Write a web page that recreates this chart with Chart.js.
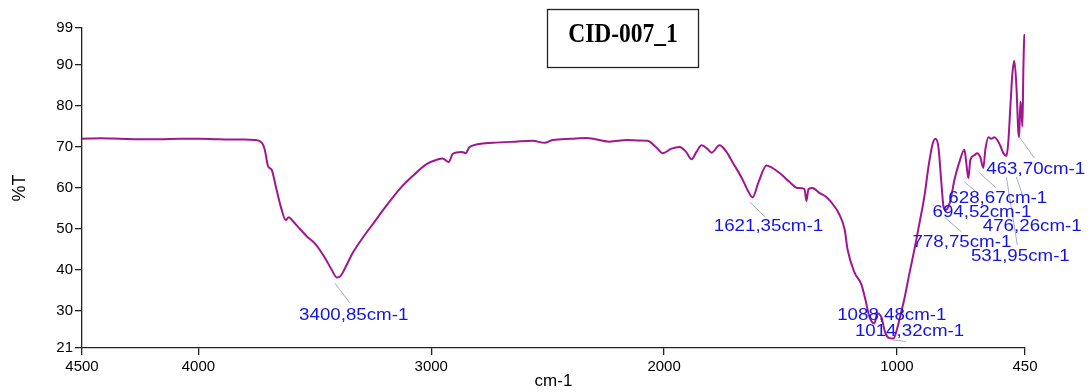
<!DOCTYPE html>
<html>
<head>
<meta charset="utf-8">
<script src="https://cdn.jsdelivr.net/npm/chart.js@4.4.1/dist/chart.umd.min.js"></script>
<style>
  html, body { margin: 0; padding: 0; background: #fff; }
</style>
</head>
<body>
<canvas id="irChart" width="1090" height="392"></canvas>
<script>
// ============================
// SPECTRUM DATA (cm-1 / %T)
// ============================
const wavenumber = [
  4500, 4420, 4337, 4250, 4165, 4080, 3994, 3930, 3865, 3800, 3758, 3727, 3715, 3702, 3693, 3685,
  3667, 3646, 3625, 3612, 3594, 3564, 3534, 3500, 3457, 3427, 3406, 3389, 3363, 3337, 3285, 3251,
  3195, 3135, 3080, 3020, 2970, 2951, 2925, 2908, 2869, 2852, 2835, 2736, 2640, 2564, 2513, 2479, 2400,
  2333, 2234, 2161, 2105, 2071, 2032, 2006, 1968, 1934, 1908, 1882, 1861, 1839, 1813, 1796,
  1762, 1732, 1706, 1667, 1637, 1620, 1594, 1560, 1539, 1517, 1490, 1462, 1427, 1397, 1389, 1380,
  1363, 1333, 1303, 1268, 1247, 1225, 1212, 1183, 1153, 1135, 1118, 1097, 1084, 1067, 1050, 1032,
  1015, 998, 985, 968, 947, 925, 903, 882, 865, 848, 835, 822, 809, 800, 792, 783,
  770, 753, 732, 710, 702, 693, 685, 667, 655, 642, 629, 620, 607, 595, 582, 569,
  556, 543, 530, 522, 513, 504, 496, 487, 479, 475, 470, 466, 461, 457, 453, 450
];
const transmittance = [
  72.0, 72.1, 72.0, 71.9, 71.9, 72.0, 72.0, 71.9, 71.8, 71.8, 71.7, 71.0, 69.3, 65.5, 64.8, 64.4,
  60.2, 55.4, 52.2, 52.9, 51.9, 50.0, 48.2, 46.5, 43.0, 40.0, 38.2, 38.6, 41.3, 44.2, 48.6, 51.2,
  55.5, 59.8, 62.9, 65.8, 67.0, 67.2, 66.3, 68.3, 68.8, 68.5, 70.0, 71.0, 71.3, 71.5, 71.0, 71.7, 72.0,
  72.2, 71.3, 71.7, 71.6, 71.5, 69.8, 68.5, 69.6, 70.0, 69.0, 67.0, 68.8, 70.4, 69.5, 68.6,
  70.4, 68.8, 66.3, 62.5, 59.0, 57.7, 61.5, 65.5, 65.0, 64.2, 63.0, 61.5, 60.0, 59.8, 56.8, 59.7,
  60.0, 58.8, 57.8, 55.5, 53.5, 50.0, 45.0, 39.5, 36.5, 32.7, 28.6, 27.0, 29.5, 28.5, 24.7, 23.4,
  23.3, 26.0, 29.0, 33.0, 39.0, 45.0, 51.5, 58.0, 65.0, 70.5, 72.0, 70.0, 61.2, 55.4, 54.6, 55.0,
  57.0, 62.0, 66.3, 69.3, 66.0, 62.4, 66.8, 68.0, 68.5, 67.5, 64.9, 69.5, 72.4, 72.0, 72.4, 71.7,
  70.3, 68.5, 67.8, 71.0, 79.7, 88.0, 91.0, 85.0, 74.0, 72.4, 81.0, 79.5, 75.0, 89.0, 96.8, 97.5
];

const xTicks = [4500, 4000, 3000, 2000, 1000, 450];
const yTicks = [99, 90, 80, 70, 60, 50, 40, 30, 21];

// marked bands
const peaks = [3400.85, 1621.35, 1088.48, 1014.32, 778.75, 694.52, 628.67, 531.95, 476.26, 463.70];
// label centre, in axis units
const labelAt = [
  [3333, 29.0], [1552, 50.5], [1022, 29.0], [946, 25.1], [721, 46.8],
  [635, 53.9], [567, 57.3], [470, 43.2], [419, 50.5], [404, 64.6]
];
// leader line from band to label, in axis units
const leaderFrom = [
  [3414, 36.8], [1633, 56.6], null, [1025, 23.0], [796, 52.9],
  [710, 61.5], [646, 63.7], [530, 62.7], [487, 62.7], [474, 72.4]
];
const leaderTo = [
  [3350, 32.0], [1565, 52.9], null, [962, 22.6], [723, 49.3],
  [659, 59.0], [573, 60.0], [483, 46.1], [461, 58.3], [410, 67.3]
];

const sampleName = "CID-007_1";

// ============================
// LABELS + SAMPLE BOX
// ============================
const peakLabels = {
  id: "peakLabels",
  afterDatasetsDraw(chart) {
    const { ctx, scales: { x, y } } = chart;
    ctx.save();

    ctx.strokeStyle = "#a6a9cf";
    ctx.lineWidth = 1;
    peaks.forEach((p, i) => {
      const a = leaderFrom[i], b = leaderTo[i];
      if (!a) return;
      ctx.beginPath();
      ctx.moveTo(x.getPixelForValue(a[0]), y.getPixelForValue(a[1]));
      ctx.lineTo(x.getPixelForValue(b[0]), y.getPixelForValue(b[1]));
      ctx.stroke();
    });

    ctx.fillStyle = "#1414e0";
    ctx.font = "16px 'Liberation Sans', Arial, sans-serif";
    ctx.textAlign = "center";
    ctx.textBaseline = "middle";
    peaks.forEach((p, i) => {
      const text = p.toFixed(2).replace(".", ",") + "cm-1";
      ctx.save();
      ctx.translate(x.getPixelForValue(labelAt[i][0]), y.getPixelForValue(labelAt[i][1]));
      ctx.scale(1.17, 1);
      ctx.fillText(text, 0, 0);
      ctx.restore();
    });

    // sample name box
    ctx.strokeStyle = "#222";
    ctx.lineWidth = 1.3;
    ctx.strokeRect(547.5, 9.5, 151, 58);
    ctx.fillStyle = "#000";
    ctx.font = "bold 27px 'Liberation Serif', 'Times New Roman', serif";
    ctx.save();
    ctx.translate(623, 35);
    ctx.scale(0.87, 1);
    ctx.fillText(sampleName, 0, 0);
    ctx.restore();

    ctx.restore();
  }
};

// ============================
// INIT CHART
// ============================
const tickFont = { family: "'Liberation Sans', Arial, sans-serif", size: 15 };
const axisColor = "#222";

const ctx = document.getElementById("irChart").getContext("2d");

const chart = new Chart(ctx, {
  type: "scatter",
  data: {
    datasets: [{
      data: wavenumber.map((w, i) => ({ x: w, y: transmittance[i] })),
      showLine: true,
      borderColor: "#a0168e",
      borderWidth: 2,
      pointRadius: 0,
      cubicInterpolationMode: "monotone",
      fill: false
    }]
  },
  options: {
    responsive: false,
    animation: false,
    layout: { padding: { top: 28, right: 65, left: 0, bottom: 0 } },
    plugins: {
      legend: { display: false },
      tooltip: { enabled: false }
    },
    scales: {
      x: {
        type: "linear",
        reverse: true,
        min: 450,
        max: 4500,
        afterBuildTicks: s => { s.ticks = xTicks.map(v => ({ value: v })); },
        afterFit: s => { s.height = 44; },
        grid: { drawOnChartArea: false, drawTicks: true, tickLength: 7, color: axisColor, lineWidth: 1.3 },
        border: { display: true, color: axisColor, width: 1.3 },
        ticks: { color: "#000", font: tickFont, padding: 3, maxRotation: 0, autoSkip: false, callback: v => String(v) },
        title: { display: true, text: "cm-1", color: "#000", font: { family: tickFont.family, size: 17 }, padding: { top: 0, bottom: 0 } }
      },
      y: {
        min: 21,
        max: 99,
        afterBuildTicks: s => { s.ticks = yTicks.map(v => ({ value: v })); },
        afterFit: s => { s.width = 82; },
        grid: { drawOnChartArea: false, drawTicks: true, tickLength: 7, color: axisColor, lineWidth: 1.3 },
        border: { display: true, color: axisColor, width: 1.3 },
        ticks: { color: "#000", font: tickFont, padding: 2, autoSkip: false, callback: v => String(v) },
        title: { display: true, text: "%T", color: "#000", font: { family: tickFont.family, size: 18 }, padding: { top: 9, bottom: 0 } }
      }
    }
  },
  plugins: [peakLabels]
});
</script>
</body>
</html>
